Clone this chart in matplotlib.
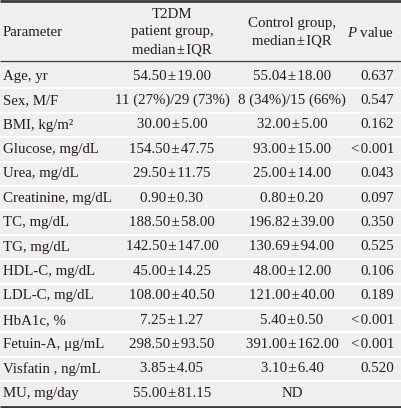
import matplotlib
matplotlib.use("Agg")
import matplotlib.pyplot as plt

plt.rcParams["mathtext.fontset"] = "custom"
plt.rcParams["mathtext.it"] = "Liberation Serif:italic"
plt.rcParams["mathtext.rm"] = "Liberation Serif"

PM = "\u200a\u00b1\u200a"
parameters = ["Age, yr", "Sex, M/F", "BMI, kg/m\u00b2", "Glucose, mg/dL", "Urea, mg/dL",
              "Creatinine, mg/dL", "TC, mg/dL", "TG, mg/dL", "HDL-C, mg/dL", "LDL-C, mg/dL",
              "HbA1c, %", "Fetuin-A, \u03bcg/mL", "Visfatin , ng/mL", "MU, mg/day"]
t2dm = ["54.50\u00b119.00", "11 (27%)/29 (73%)", "30.00\u00b15.00", "154.50\u00b147.75",
        "29.50\u00b111.75", "0.90\u00b10.30", "188.50\u00b158.00", "142.50\u00b1147.00",
        "45.00\u00b114.25", "108.00\u00b140.50", "7.25\u00b11.27", "298.50\u00b193.50",
        "3.85\u00b14.05", "55.00\u00b181.15"]
control = ["55.04\u00b118.00", "8 (34%)/15 (66%)", "32.00\u00b15.00", "93.00\u00b115.00",
           "25.00\u00b114.00", "0.80\u00b10.20", "196.82\u00b139.00", "130.69\u00b194.00",
           "48.00\u00b112.00", "121.00\u00b140.00", "5.40\u00b10.50", "391.00\u00b1162.00",
           "3.10\u00b16.40", "ND"]
pvalues = ["0.637", "0.547", "0.162", "<0.001", "0.043", "0.097", "0.350", "0.525",
           "0.106", "0.189", "<0.001", "<0.001", "0.520", ""]
header_param = "Parameter"
header_t2dm = ["T2DM", "patient group,", "median\u00b1IQR"]
header_control = ["Control group,", "median\u00b1IQR"]
header_p = r"$\mathit{P}$ value"

W, H = 401, 408
fig = plt.figure(figsize=(W / 100, H / 100), dpi=100)
ax = fig.add_axes([0, 0, 1, 1])
ax.set_xlim(0, W)
ax.set_ylim(H, 0)
ax.axis("off")

bg = "#efefef"
txt = "#231f20"
font = ["Liberation Serif", "DejaVu Serif"]
fs = 10.7


def fmt(s):
    return s.replace("\u00b1", PM).replace("<", "<\u200a")


ax.add_patch(plt.Rectangle((0, 0), W, H, color=bg, zorder=0))

top, head_bot, bottom = 1.0, 61.0, 406.5
rows_top = 64.0
n = len(parameters)
rh = 24.4

for i in range(1, n):
    y = rows_top + i * rh
    ax.plot([0, W], [y, y], color="white", lw=1.5, zorder=1)
ax.plot([0, W], [top, top], color="#3a3a3a", lw=2.0, zorder=2, solid_capstyle="butt")
ax.plot([0, W], [head_bot, head_bot], color="#3a3a3a", lw=0.9, zorder=2, solid_capstyle="butt")
ax.plot([0, W], [bottom, bottom], color="#3a3a3a", lw=2.0, zorder=2, solid_capstyle="butt")

x_param, x_t2dm, x_ctrl, x_p = 3, 172, 292, 394

ax.text(x_param, 33, header_param, ha="left", va="center", fontsize=fs, family=font, color=txt)
for j, s in enumerate(header_t2dm):
    ax.text(x_t2dm, 14 + j * 18, fmt(s), ha="center", va="center", fontsize=fs, family=font, color=txt)
for j, s in enumerate(header_control):
    ax.text(x_ctrl, 23 + j * 18, fmt(s), ha="center", va="center", fontsize=fs, family=font, color=txt)
ax.text(x_p, 33, header_p, ha="right", va="center", fontsize=fs, family=font, color=txt)

for i in range(n):
    y = rows_top + (i + 0.5) * rh
    ax.text(x_param, y, parameters[i], ha="left", va="center", fontsize=fs, family=font, color=txt)
    ax.text(x_t2dm, y, fmt(t2dm[i]), ha="center", va="center", fontsize=fs, family=font, color=txt)
    ax.text(x_ctrl, y, fmt(control[i]), ha="center", va="center", fontsize=fs, family=font, color=txt)
    ax.text(x_p, y, fmt(pvalues[i]), ha="right", va="center", fontsize=fs, family=font, color=txt)

fig.savefig("out.png", dpi=100)
